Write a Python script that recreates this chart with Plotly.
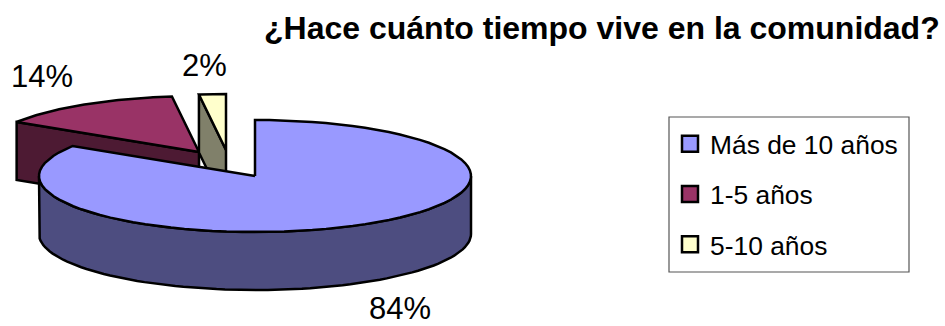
import numpy as np
import plotly.graph_objects as go

categories = ["Más de 10 años", "1-5 años", "5-10 años"]
values = [84, 14, 2]
labels = ["84%", "14%", "2%"]
top_colors = ["#9999FF", "#993366", "#FFFFCC"]
side_colors = ["#4D4D80", "#4D1A33", "#80806A"]
title_text = "¿Hace cuánto tiempo vive en la comunidad?"

# pie projection, in page pixels
RX, RY, DEPTH = 216, 56, 58
centers = [(255, 176), (199, 152), (226, 150)]
label_pos = [(400, 308), (42, 76), (204, 65)]
FONT = "Liberation Sans, Arial, sans-serif"
EDGE = 2.5


def arc(cx, cy, a0, a1, n=80):
    t = np.radians(np.linspace(a0, a1, n))
    return cx + RX * np.sin(t), cy - RY * np.cos(t)


def poly(fig, xs, ys, color):
    fig.add_trace(go.Scatter(x=list(xs), y=list(ys), mode="lines", fill="toself",
                             fillcolor=color, line=dict(color="black", width=EDGE),
                             hoverinfo="skip", showlegend=False))


def wedge(fig, i, a0, a1):
    cx, cy = centers[i]
    ax, ay = arc(cx, cy, a0, a1)
    if i > 0:
        # visible cut face at the start of the slice
        ex, ey = arc(cx, cy, a0, a0, 1)
        poly(fig, [cx, ex[0], ex[0], cx, cx], [cy, ey[0], ey[0] + DEPTH, cy + DEPTH, cy], side_colors[i])
    # outer wall: only the part facing the viewer (90..270 degrees)
    lo, hi = max(a0, 90), min(a1, 270)
    if hi > lo:
        wx, wy = arc(cx, cy, lo, hi)
        poly(fig, np.r_[wx, wx[::-1], wx[0]], np.r_[wy, wy[::-1] + DEPTH, wy[0]], side_colors[i])
    poly(fig, np.r_[cx, ax, cx], np.r_[cy, ay, cy], top_colors[i])


fig = go.Figure()
total = sum(values)
angles = np.cumsum([0] + values) / total * 360
for i in (1, 2, 0):
    wedge(fig, i, angles[i], angles[i + 1])

for i, cat in enumerate(categories):
    fig.add_trace(go.Scatter(x=[None], y=[None], mode="markers", name=cat, legendgroup=cat,
                             marker=dict(symbol="square", size=16, color=top_colors[i],
                                         line=dict(color="black", width=2.5))))

for lab, (x, y) in zip(labels, label_pos):
    fig.add_annotation(x=x, y=y, text=lab, showarrow=False,
                       font=dict(family=FONT, size=31, color="black"))

fig.add_annotation(x=602, y=28, text=f"<b>{title_text}</b>", showarrow=False,
                   font=dict(family=FONT, size=32, color="black"))

fig.add_shape(type="rect", x0=669, x1=909, y0=117, y1=272, layer="below",
              line=dict(color="#555555", width=1.2), fillcolor="white")

fig.update_layout(
    width=945, height=326, margin=dict(l=0, r=0, t=0, b=0),
    paper_bgcolor="white", plot_bgcolor="white",
    xaxis=dict(range=[0, 945], visible=False, fixedrange=True),
    yaxis=dict(range=[326, 0], visible=False, fixedrange=True),
    legend=dict(x=670 / 945, y=1 - 120 / 326, xanchor="left", yanchor="top",
                bgcolor="rgba(0,0,0,0)", borderwidth=0,
                font=dict(family=FONT, size=26.4, color="black"),
                tracegroupgap=13, itemclick=False, itemdoubleclick=False),
)
fig.write_html("out.html", config={"displayModeBar": False},
               post_script="document.body.style.margin='0';document.body.style.overflow='hidden';")
